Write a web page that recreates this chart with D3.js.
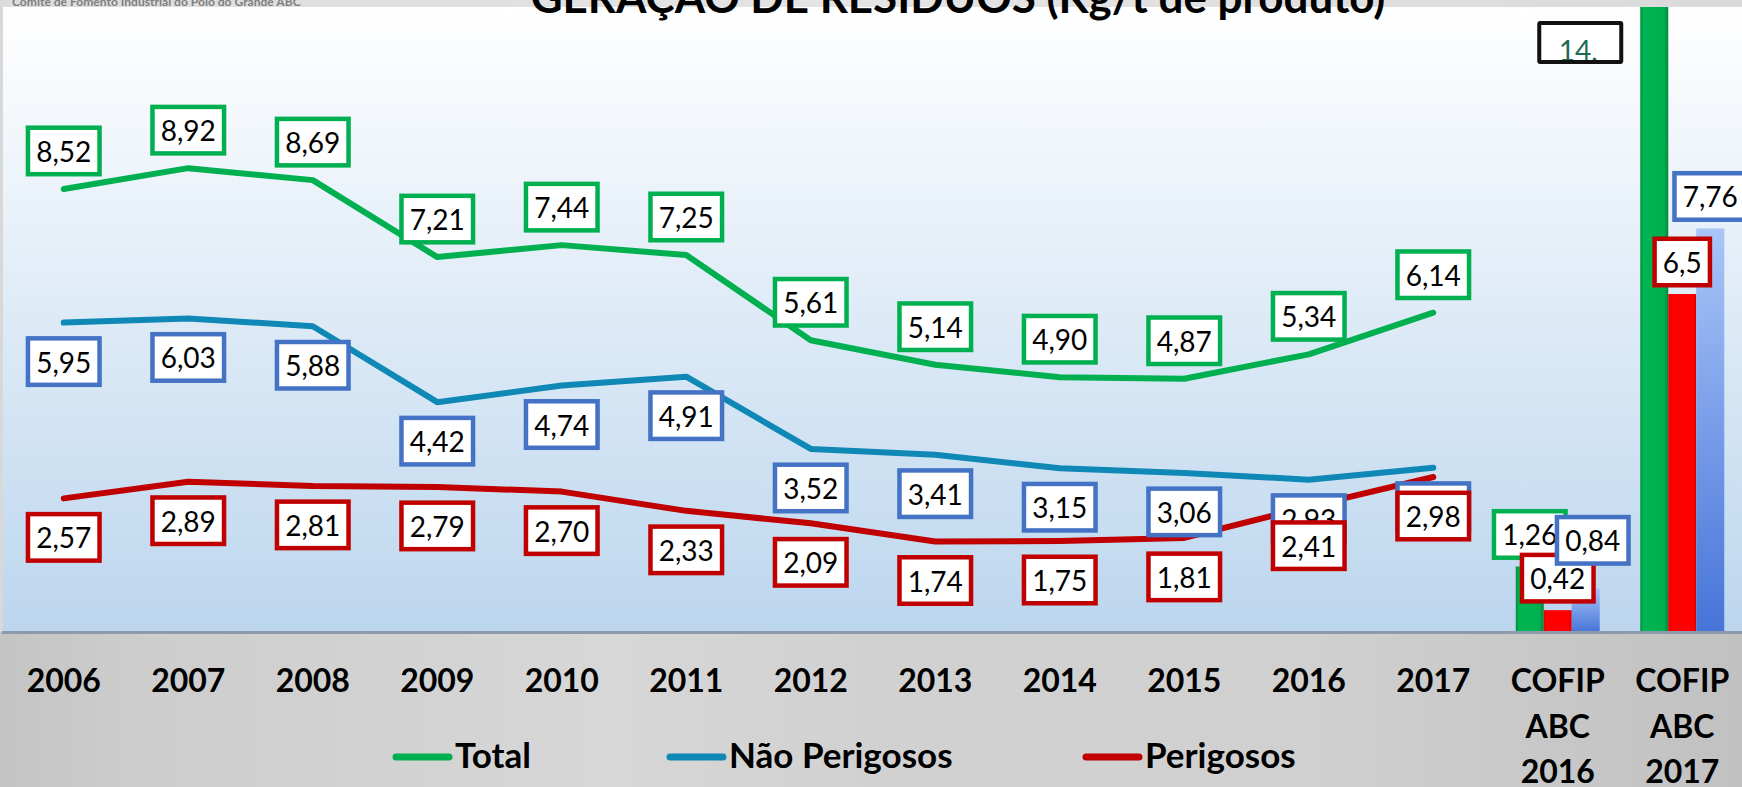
<!DOCTYPE html>
<html>
<head>
<meta charset="utf-8">
<script src="https://d3js.org/d3.v7.min.js"></script>
<style>
html, body { margin: 0; padding: 0; overflow: hidden; background: #d2d2d2; }
svg { display: block; font-family: Lato, "Open Sans", sans-serif; }
</style>
</head>
<body>
<svg id="chart" width="1742" height="787"></svg>
<script>
// values (kg per tonne of product)
var years = ["2006", "2007", "2008", "2009", "2010", "2011", "2012", "2013", "2014", "2015", "2016", "2017"];
var cofipCats = ["COFIP ABC 2016", "COFIP ABC 2017"];
var seriesNames = ["Total", "Não Perigosos", "Perigosos"];

var total        = [8.52, 8.92, 8.69, 7.21, 7.44, 7.25, 5.61, 5.14, 4.90, 4.87, 5.34, 6.14];
var naoPerigosos = [5.95, 6.03, 5.88, 4.42, 4.74, 4.91, 3.52, 3.41, 3.15, 3.06, 2.93, 3.16];
var perigosos    = [2.57, 2.89, 2.81, 2.79, 2.70, 2.33, 2.09, 1.74, 1.75, 1.81, 2.41, 2.98];

var cofipTotal        = [1.26, 14.26];
var cofipPerigosos    = [0.42, 6.5];
var cofipNaoPerigosos = [0.84, 7.76];

var W = 1742, H = 787;
var baseY = 632, topY = 7;

var svg = d3.select("#chart");
var defs = svg.append("defs");

// gradient helper
function linGrad(id, x2, y2, stops) {
    var g = defs.append("linearGradient").attr("id", id)
        .attr("x1", 0).attr("y1", 0).attr("x2", x2).attr("y2", y2);
    stops.forEach(function(s) { g.append("stop").attr("offset", s[0]).attr("stop-color", s[1]); });
}
linGrad("gPlot", 0, 1, [[0, "#ffffff"], [1, "#bcd6ee"]]);
linGrad("gFloor", 1, 0, [[0, "#c4c4c4"], [0.08, "#cdcdcd"], [0.35, "#d7d7d7"], [0.5, "#d1d1d1"],
                         [0.75, "#d0d0d0"], [0.92, "#c6c6c6"], [1, "#c1c1c1"]]);
linGrad("gHead", 1, 0, [[0, "#dcdcdc"], [0.5, "#e4e4e4"], [1, "#dadada"]]);
linGrad("gGreen", 1, 0, [[0, "#00903e"], [0.12, "#00b553"], [0.85, "#00b050"], [1, "#00873a"]]);
linGrad("gRed", 1, 0, [[0, "#e00000"], [0.1, "#ff0000"], [0.9, "#ff0000"], [1, "#d40000"]]);
linGrad("gBlue", 0, 1, [[0, "#a9c6f9"], [1, "#4674d8"]]);

defs.append("clipPath").attr("id", "plotClip")
    .append("rect").attr("x", 0).attr("y", topY).attr("width", W).attr("height", baseY - topY + 2);

// backgrounds
svg.append("rect").attr("x", 0).attr("y", 0).attr("width", W).attr("height", topY).attr("fill", "url(#gHead)");
svg.append("rect").attr("x", 0).attr("y", topY).attr("width", 3).attr("height", baseY - topY).attr("fill", "#d8d8d8");
svg.append("rect").attr("x", 3).attr("y", topY).attr("width", W - 3).attr("height", baseY - topY).attr("fill", "url(#gPlot)");
svg.append("rect").attr("x", 0).attr("y", baseY).attr("width", W).attr("height", H - baseY).attr("fill", "url(#gFloor)");

// scales
var categories = years.concat(cofipCats);
var x = d3.scaleBand().domain(categories).range([1.5, 1744.5]);
var y = d3.scaleLinear().domain([0, 12]).range([baseY, 8]);
var bw = x.bandwidth();
var xBar = d3.scaleBand().domain([0, 1, 2]).range([0, 84]);

var lineSeries = [
    { name: seriesNames[0], values: total,        color: "#00b050", box: "#00b050", dy: -38 },
    { name: seriesNames[1], values: naoPerigosos, color: "#0f88b6", box: "#4472c4", dy: 39 },
    { name: seriesNames[2], values: perigosos,    color: "#c00000", box: "#c00000", dy: 39 }
];
var barSeries = [
    { values: cofipTotal,        fill: "url(#gGreen)", box: "#00b050" },
    { values: cofipPerigosos,    fill: "url(#gRed)",   box: "#c00000" },
    { values: cofipNaoPerigosos, fill: "url(#gBlue)",  box: "#4472c4" }
];

var plotG = svg.append("g").attr("clip-path", "url(#plotClip)");

// COFIP bars
barSeries.forEach(function(s, si) {
    plotG.selectAll(null).data(s.values).enter().append("rect")
        .attr("x", function(d, i) { return x(cofipCats[i]) + (bw - 84) / 2 + xBar(si); })
        .attr("y", function(d) { return y(d); })
        .attr("width", xBar.bandwidth())
        .attr("height", function(d) { return baseY - y(d); })
        .attr("fill", s.fill);
});

// lines
var line = d3.line()
    .x(function(d, i) { return x(years[i]) + bw / 2; })
    .y(function(d) { return y(d); });
lineSeries.forEach(function(s) {
    plotG.append("path").datum(s.values)
        .attr("d", line)
        .attr("fill", "none")
        .attr("stroke", s.color)
        .attr("stroke-width", 6)
        .attr("stroke-linecap", "round")
        .attr("stroke-linejoin", "round");
});

// x axis
var axis = d3.axisBottom(x).tickSize(0).tickSizeOuter(0);
var ax = svg.append("g").attr("transform", "translate(0," + baseY + ")").call(axis)
    .attr("font-family", null).attr("font-size", null);
ax.select(".domain").attr("stroke", "#8b9bab").attr("stroke-width", 3);
ax.selectAll(".tick text")
    .attr("y", 60).attr("dy", null)
    .attr("fill", "#000")
    .style("font-size", "32px").style("font-weight", "bold")
    .each(function(d) {
        var parts = d.split(" ");
        if (parts.length > 1) {
            var t = d3.select(this).text(null);
            parts.forEach(function(p, i) {
                t.append("tspan").attr("x", 0).attr("y", 60 + i * 45.5).text(p);
            });
        }
    });

// data labels
var labelG = svg.append("g");
function fmt2(v) { return d3.format(".2f")(v).replace(".", ","); }
function fmtGen(v) { return String(v).replace(".", ","); }

function drawLabel(cx, cy, txt, stroke) {
    var g = labelG.append("g");
    var r = g.append("rect");
    var t = g.append("text").attr("x", cx).attr("y", cy + 11)
        .attr("text-anchor", "middle").style("font-size", "28px").attr("fill", "#000").text(txt);
    var w = t.node().getComputedTextLength() + 21, h = 51;
    r.attr("x", cx - w / 2 + 2.25).attr("y", cy - h / 2 + 2.25)
        .attr("width", w - 4.5).attr("height", h - 4.5)
        .attr("fill", "#fff").attr("stroke", stroke).attr("stroke-width", 4.5);
}

lineSeries.forEach(function(s) {
    s.values.forEach(function(v, i) {
        drawLabel(x(years[i]) + bw / 2, y(v) + s.dy, fmt2(v), s.box);
    });
});

// Excel moved one crowded label a little
var nudge = { "2-0": [7, -16] };
barSeries.forEach(function(s, si) {
    s.values.forEach(function(v, i) {
        var cx = x(cofipCats[i]) + (bw - 84) / 2 + xBar(si) + xBar.bandwidth() / 2;
        if (v > y.domain()[1]) {
            // value runs off the top: label sits in a black box, wrapped and cut
            var bx = cx - 74, bwid = 86, by = 21, bh = 43;
            defs.append("clipPath").attr("id", "ovClip")
                .append("rect").attr("x", bx - 43).attr("y", by).attr("width", bwid).attr("height", bh);
            var g = labelG.append("g");
            g.append("rect").attr("x", bx - 43).attr("y", by).attr("width", bwid).attr("height", bh).attr("fill", "#fff");
            g.append("text").attr("clip-path", "url(#ovClip)")
                .attr("x", bx - 2).attr("y", by + 40).attr("text-anchor", "middle")
                .style("font-size", "28px").attr("fill", "#1e6b52")
                .text(fmtGen(v).split(",")[0] + ",");
            g.append("rect").attr("x", bx - 43 + 2).attr("y", by + 2).attr("width", bwid - 4).attr("height", bh - 4)
                .attr("fill", "none").attr("stroke", "#111").attr("stroke-width", 4).attr("rx", 1);
            return;
        }
        var n = nudge[si + "-" + i] || [0, 0];
        drawLabel(cx + n[0], y(v) - 32 + n[1], fmtGen(v), s.box);
    });
});

// legend
var legendX = [393, 667, 1083];
var legend = svg.append("g");
lineSeries.forEach(function(s, i) {
    legend.append("line").attr("x1", legendX[i] + 3).attr("x2", legendX[i] + 56)
        .attr("y1", 757).attr("y2", 757)
        .attr("stroke", s.color).attr("stroke-width", 7).attr("stroke-linecap", "round");
    legend.append("text").attr("x", legendX[i] + 62).attr("y", 768)
        .style("font-size", "35px").style("font-weight", "bold").attr("fill", "#000")
        .text(s.name);
});

// header texts (cut by the top of the slide)
var sub = svg.append("text").attr("x", 12).attr("y", 6)
    .style("font-size", "14px").style("font-weight", "bold").attr("fill", "#7f7f7f")
    .text("Comitê de Fomento Industrial do Polo do Grande ABC");
sub.style("font-size", (14 * 289 / sub.node().getComputedTextLength()) + "px");

var title = svg.append("text").attr("x", 958).attr("y", 13).attr("text-anchor", "middle")
    .style("font-size", "40px").style("font-weight", "bold").attr("fill", "#000")
    .text("GERAÇÃO DE RESÍDUOS (Kg/t de produto)");
title.style("font-size", (40 * 855 / title.node().getComputedTextLength()) + "px");
</script>
</body>
</html>
